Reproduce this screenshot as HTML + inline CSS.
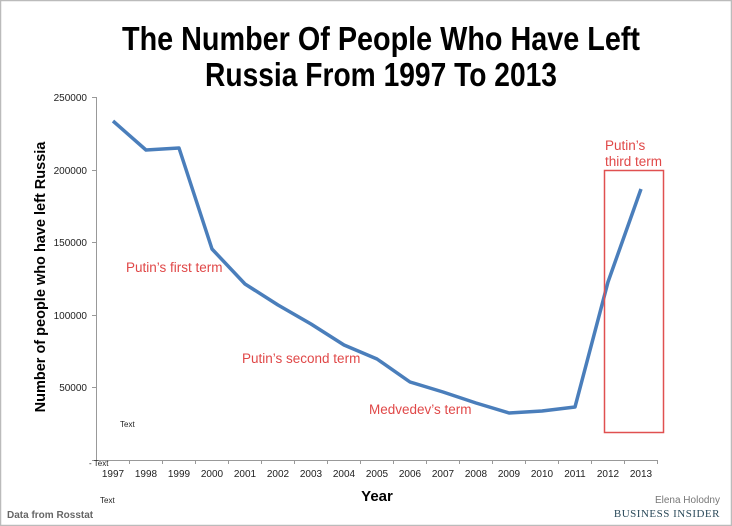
<!DOCTYPE html>
<html><head><meta charset="utf-8"><style>
html,body{margin:0;padding:0;background:#fff;}
svg{display:block;font-family:"Liberation Sans",sans-serif;}
</style></head><body>
<svg width="732" height="526" viewBox="0 0 732 526" xmlns="http://www.w3.org/2000/svg">
<rect x="0.5" y="0.5" width="731" height="525" fill="#fff" stroke="#bbb" stroke-width="1.5"/>
<g font-family="'Liberation Sans Narrow','Liberation Sans',sans-serif" font-weight="bold" font-size="33" text-anchor="middle" fill="#000">
<text x="381" y="50" textLength="518" lengthAdjust="spacingAndGlyphs">The Number Of People Who Have Left</text>
<text x="381" y="86" textLength="352" lengthAdjust="spacingAndGlyphs">Russia From 1997 To 2013</text>
</g>
<g stroke="#999" stroke-width="1" fill="none">
<line x1="96.5" y1="97" x2="96.5" y2="460"/>
<line x1="96" y1="460.5" x2="657" y2="460.5"/>
<line x1="92" y1="97.5" x2="96" y2="97.5"/>
<line x1="92" y1="170.5" x2="96" y2="170.5"/>
<line x1="92" y1="242.5" x2="96" y2="242.5"/>
<line x1="92" y1="315.5" x2="96" y2="315.5"/>
<line x1="92" y1="387.5" x2="96" y2="387.5"/>
<line x1="92" y1="460.5" x2="96" y2="460.5"/>
<path d="M129.5 460v4M162.5 460v4M195.5 460v4M228.5 460v4M261.5 460v4M294.5 460v4M327.5 460v4M360.5 460v4M393.5 460v4M426.5 460v4M459.5 460v4M492.5 460v4M525.5 460v4M558.5 460v4M591.5 460v4M624.5 460v4M657.5 460v4"/>
</g>
<g font-size="10" fill="#222" text-anchor="end">
<text x="87" y="101">250000</text>
<text x="87" y="174">200000</text>
<text x="87" y="246">150000</text>
<text x="87" y="319">100000</text>
<text x="87" y="391">50000</text>
</g>
<text x="89" y="466" font-size="8" fill="#222">- Text</text>
<g font-size="10" fill="#222" text-anchor="middle">
<text x="113" y="477">1997</text><text x="146" y="477">1998</text><text x="179" y="477">1999</text>
<text x="212" y="477">2000</text><text x="245" y="477">2001</text><text x="278" y="477">2002</text>
<text x="311" y="477">2003</text><text x="344" y="477">2004</text><text x="377" y="477">2005</text>
<text x="410" y="477">2006</text><text x="443" y="477">2007</text><text x="476" y="477">2008</text>
<text x="509" y="477">2009</text><text x="542" y="477">2010</text><text x="575" y="477">2011</text>
<text x="608" y="477">2012</text><text x="641" y="477">2013</text>
</g>
<text x="377" y="501" font-size="15" font-weight="bold" text-anchor="middle">Year</text>
<text transform="translate(45,277) rotate(-90)" font-size="14.5" font-weight="bold" text-anchor="middle">Number of people who have left Russia</text>
<text x="120" y="427" font-size="8" fill="#222">Text</text>
<text x="100" y="503" font-size="8" fill="#222">Text</text>
<text x="7" y="518" font-size="10" font-weight="bold" fill="#666" font-family="'Liberation Sans Narrow','Liberation Sans',sans-serif">Data from Rosstat</text>
<text x="720" y="503" font-size="10" fill="#777" text-anchor="end" font-family="'Liberation Sans Narrow','Liberation Sans',sans-serif">Elena Holodny</text>
<text x="720" y="517" font-size="11" fill="#2b4a5a" text-anchor="end" font-family="'Liberation Serif',serif" letter-spacing="0.5">BUSINESS INSIDER</text>
<polyline fill="none" stroke="#4a7ebb" stroke-width="3.5" stroke-linejoin="round" points="113,121 146,150 179,148 212,249 245,284 278,305 311,324 344,345 377,359 410,382 443,392 476,403 509,413 542,411 575,407 608,282 641,189"/>
<rect x="604.5" y="170.5" width="59" height="262" fill="none" stroke="#e05050" stroke-width="1.5"/>
<g font-size="13.5" fill="#e04848">
<text x="126" y="272">Putin’s first term</text>
<text x="242" y="363">Putin’s second term</text>
<text x="369" y="414">Medvedev’s term</text>
<text x="605" y="150">Putin’s</text>
<text x="605" y="166">third term</text>
</g>
</svg>
</body></html>
